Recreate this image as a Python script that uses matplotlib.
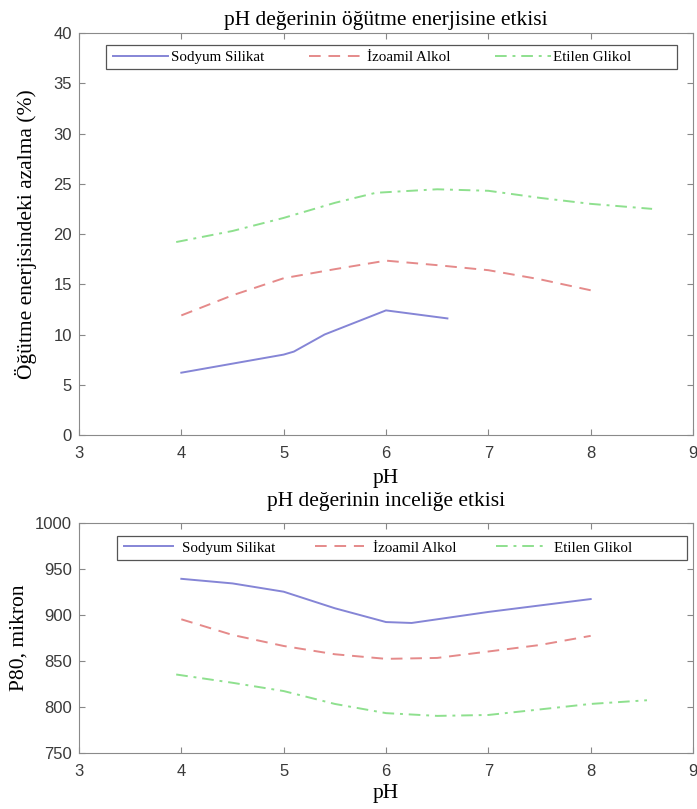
"""pH etkisi: ogutme enerjisi ve incelik grafikleri."""

import matplotlib
import numpy as np
from matplotlib import pyplot as plt
from matplotlib.patches import Rectangle

matplotlib.use("Agg")

SERIES = ["Sodyum Silikat", "İzoamil Alkol", "Etilen Glikol"]
COLORS = ["#8585d6", "#e58a8a", "#8ee08e"]
STYLES = ["-", (0, (6, 4)), (0, (6, 3, 1.5, 3))]

# Ust grafik: ogutme enerjisindeki azalma (%)
ss_ph_top = [4.0, 5.0, 5.1, 5.4, 6.0, 6.6]
ss_top = [6.2, 8.0, 8.3, 10.0, 12.4, 11.6]
ia_ph_top = [4.0, 4.5, 5.0, 5.5, 6.0, 6.5, 7.0, 7.5, 8.0]
ia_top = [11.9, 13.9, 15.6, 16.5, 17.35, 16.9, 16.4, 15.5, 14.4]
eg_ph_top = [3.95, 4.5, 5.0, 5.5, 5.9, 6.5, 7.0, 7.5, 8.0, 8.6]
eg_top = [19.2, 20.3, 21.6, 23.1, 24.1, 24.45, 24.3, 23.6, 23.0, 22.5]

# Alt grafik: P80 (mikron)
ss_ph_bot = [4.0, 4.5, 5.0, 5.5, 6.0, 6.25, 6.5, 7.0, 7.5, 8.0]
ss_bot = [939, 934, 925, 907, 892, 891, 895, 903, 910, 917]
ia_ph_bot = [4.0, 4.5, 5.0, 5.5, 6.0, 6.5, 7.0, 7.5, 8.0]
ia_bot = [895, 878, 866, 857, 852, 853, 860, 867, 877]
eg_ph_bot = [3.95, 4.5, 5.0, 5.5, 6.0, 6.5, 7.0, 7.5, 8.0, 8.55]
eg_bot = [835, 826, 817, 803, 793, 790, 791, 797, 803, 807]


def _style_axes(ax, yticks):
    ax.set_xlim(3, 9)
    ax.set_xticks(range(3, 10))
    ax.set_ylim(yticks[0], yticks[-1])
    ax.set_yticks(yticks)
    ax.tick_params(direction="in", top=True, right=True, length=4,
                   colors="#888888", labelcolor="#3a3a3a", labelsize=12)
    ax.tick_params(axis="x", pad=8)
    ax.tick_params(axis="y", pad=5)
    for spine in ax.spines.values():
        spine.set_color("#8a8a8a")
    for lab in ax.get_xticklabels() + ax.get_yticklabels():
        lab.set_family("Liberation Sans")


def _legend(ax, frame, anchor, handlelen, textpad, colspace):
    x0, y0, x1, y1 = frame
    ax.add_patch(Rectangle((x0, y0), x1 - x0, y1 - y0, transform=ax.transAxes,
                           fill=False, edgecolor="#555555", linewidth=0.9,
                           zorder=5))
    ax.legend(ncol=3, loc="center left", bbox_to_anchor=anchor, frameon=False,
              handlelength=handlelen, handletextpad=textpad,
              columnspacing=colspace, borderpad=0, borderaxespad=0,
              prop={"family": "Liberation Serif", "size": 10.8})


def _main() -> None:
    serif = "Liberation Serif"
    fig = plt.figure(figsize=(6.97, 8.09), dpi=100)
    ax1 = fig.add_axes([0.1133, 0.4623, 0.881, 0.4969])
    ax2 = fig.add_axes([0.1133, 0.0696, 0.881, 0.2843])

    top = [(ss_ph_top, ss_top), (ia_ph_top, ia_top), (eg_ph_top, eg_top)]
    bot = [(ss_ph_bot, ss_bot), (ia_ph_bot, ia_bot), (eg_ph_bot, eg_bot)]
    for ax, data in [(ax1, top), (ax2, bot)]:
        for (xs, ys), name, col, ls in zip(data, SERIES, COLORS, STYLES):
            ax.plot(xs, ys, color=col, linestyle=ls, linewidth=1.4, label=name)

    _style_axes(ax1, np.arange(0, 45, 5))
    _style_axes(ax2, np.arange(750, 1050, 50))

    ax1.set_title("pH değerinin öğütme enerjisine etkisi", family=serif,
                  fontsize=15.5, pad=6)
    ax1.set_xlabel("pH", family=serif, fontsize=15.5, labelpad=6)
    ax1.set_ylabel("Öğütme enerjisindeki azalma (%)", family=serif,
                   fontsize=15.5, labelpad=12)
    ax2.set_title("pH değerinin inceliğe etkisi", family=serif,
                  fontsize=15.5, pad=12)
    ax2.set_xlabel("pH", family=serif, fontsize=15.5, labelpad=4)
    ax2.set_ylabel("P80, mikron", family=serif, fontsize=15.5, labelpad=5)

    _legend(ax1, (0.044, 0.910, 0.974, 0.970), (0.0554, 0.940), 3.7, 0.15, 3.0)
    _legend(ax2, (0.062, 0.838, 0.990, 0.942), (0.073, 0.890), 3.3, 0.6, 2.6)

    fig.savefig("out.png", dpi=100)


if __name__ == "__main__":
    _main()
